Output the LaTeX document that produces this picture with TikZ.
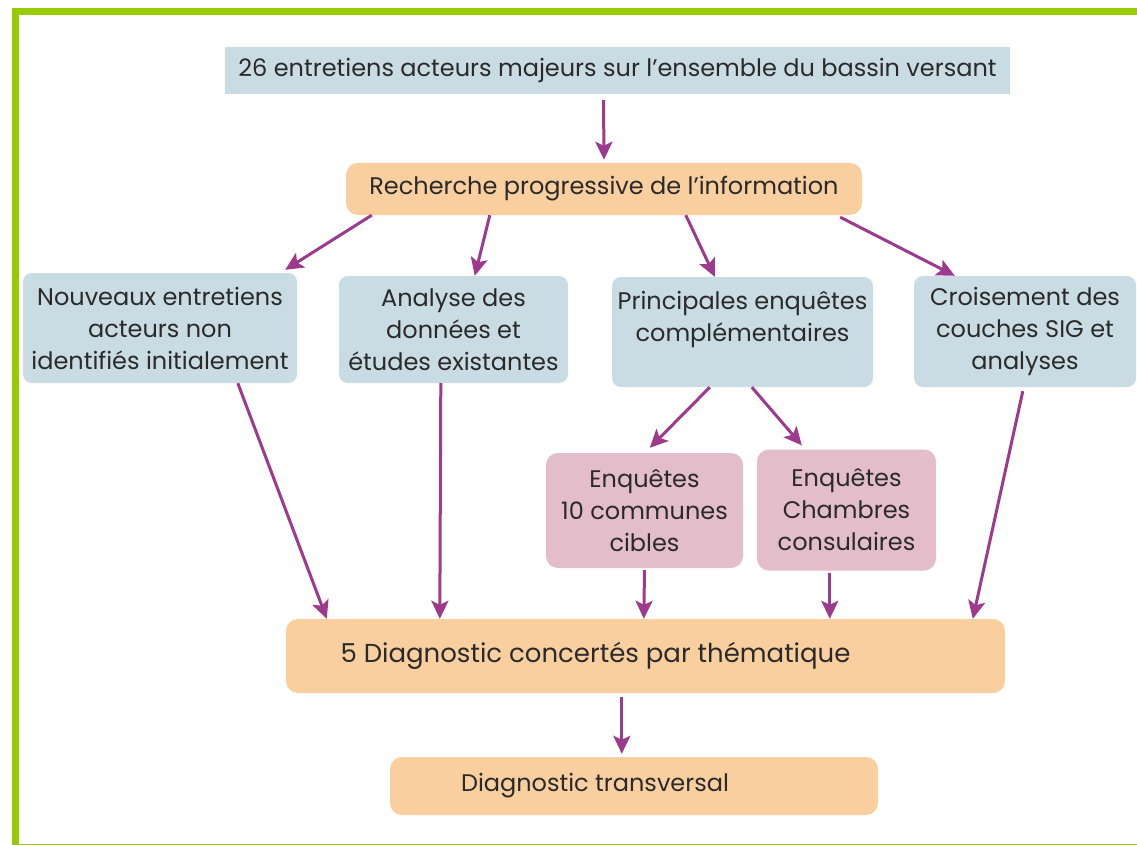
\documentclass[tikz,border=0pt]{standalone}
\usepackage{fontspec}
\setmainfont{Poppins}
\usepackage{tikz}
\usetikzlibrary{arrows.meta}

\definecolor{cadre}{HTML}{99CC00}
\definecolor{bleu}{HTML}{C9DCE3}
\definecolor{orange}{HTML}{F9CFA0}
\definecolor{rose}{HTML}{E3BDCA}
\definecolor{violet}{HTML}{9E3A8E}
\definecolor{texte}{HTML}{2A2A2A}

\tikzstyle{boite}=[text=texte, align=center, inner sep=0pt, font=\fontsize{24}{32}\selectfont]
\tikzstyle{bleue}=[boite, fill=bleu, rounded corners=9pt]
\tikzstyle{orangee}=[boite, fill=orange, rounded corners=12pt]
\tikzstyle{rosee}=[boite, fill=rose, rounded corners=12pt]
\tikzstyle{fleche}=[violet, line width=3pt, -{Stealth[length=18pt,width=17pt,inset=4pt]}]

\begin{document}
\begin{tikzpicture}[x=1pt,y=-1pt]
		\useasboundingbox (0,0) rectangle (1137,845);
		\fill[white] (0,0) rectangle (1137,845);
		\draw[cadre, line width=7pt] (1150,11.5) -- (15.5,11.5) -- (15.5,847) -- (1150,847);

		% boites
		\node[boite, fill=bleu, minimum width=785pt, minimum height=47pt] (entretiens) at (617.5,70.5)
			{26 entretiens acteurs majeurs sur l'ensemble du bassin versant};
		\node[orangee, minimum width=516pt, minimum height=52pt] (recherche) at (604,189)
			{Recherche progressive de l'information};

		\node[bleue, minimum width=274pt, minimum height=110pt] (nouveaux) at (160,328)
			{Nouveaux entretiens\\acteurs non\\identifiés initialement};
		\node[bleue, minimum width=229pt, minimum height=107pt] (analyse) at (453.5,329.5)
			{Analyse des\\données et\\études existantes};
		\node[bleue, minimum width=261pt, minimum height=110pt] (principales) at (742.5,332)
			{Principales enquêtes\\complémentaires\\~};
		\node[bleue, minimum width=222pt, minimum height=111pt] (croisement) at (1025,331.5)
			{Croisement des\\couches SIG et\\analyses};

		\node[rosee, minimum width=197pt, minimum height=115pt] (communes) at (644.5,510.5)
			{Enquêtes\\10 communes\\cibles};
		\node[rosee, minimum width=179pt, minimum height=121pt] (chambres) at (846.5,510)
			{Enquêtes\\Chambres\\consulaires};

		\node[orangee, minimum width=719pt, minimum height=74pt, font=\fontsize{26}{32}\selectfont] (thematique) at (645.5,656)
			{\hspace*{-100pt}5 Diagnostic concertés par thématique};
		\node[orangee, minimum width=488pt, minimum height=58pt] (transversal) at (634,786)
			{\hspace*{-78pt}Diagnostic transversal};

		% fleches
		\draw[fleche] ([xshift=-14pt,yshift=-6pt]entretiens.south) -- ([yshift=3pt]recherche.north);

		\draw[fleche] ([xshift=26pt]recherche.south west) -- ([xshift=-12pt,yshift=3pt]nouveaux.north east);
		\draw[fleche] ([xshift=144pt]recherche.south west) -- ([xshift=136pt]analyse.north west);
		\draw[fleche] ([xshift=340pt]recherche.south west) -- ([xshift=103pt]principales.north west);
		\draw[fleche] ([xshift=-22pt,yshift=-2pt]recherche.south east) -- ([xshift=41pt]croisement.north west);

		\draw[fleche] ([xshift=215pt]nouveaux.south west) -- ([xshift=41pt]thematique.north west);
		\draw[fleche] ([xshift=102pt]analyse.south west) -- ([xshift=154pt]thematique.north west);
		\draw[fleche] ([xshift=98pt]principales.south west) -- ([xshift=104pt,yshift=5pt]communes.north west);
		\draw[fleche] ([xshift=140pt]principales.south west) -- ([xshift=45pt,yshift=4pt]chambres.north west);
		\draw[fleche] ([xshift=109pt,yshift=-4pt]croisement.south west) -- ([xshift=687pt]thematique.north west);

		\draw[fleche] ([yshift=-2pt]communes.south) -- ([xshift=358pt]thematique.north west);
		\draw[fleche] ([xshift=73pt,yshift=-2pt]chambres.south west) -- ([xshift=544pt]thematique.north west);

		\draw[fleche] ([xshift=336pt,yshift=-4pt]thematique.south west) -- ([xshift=232pt,yshift=3pt]transversal.north west);
\end{tikzpicture}
\end{document}
